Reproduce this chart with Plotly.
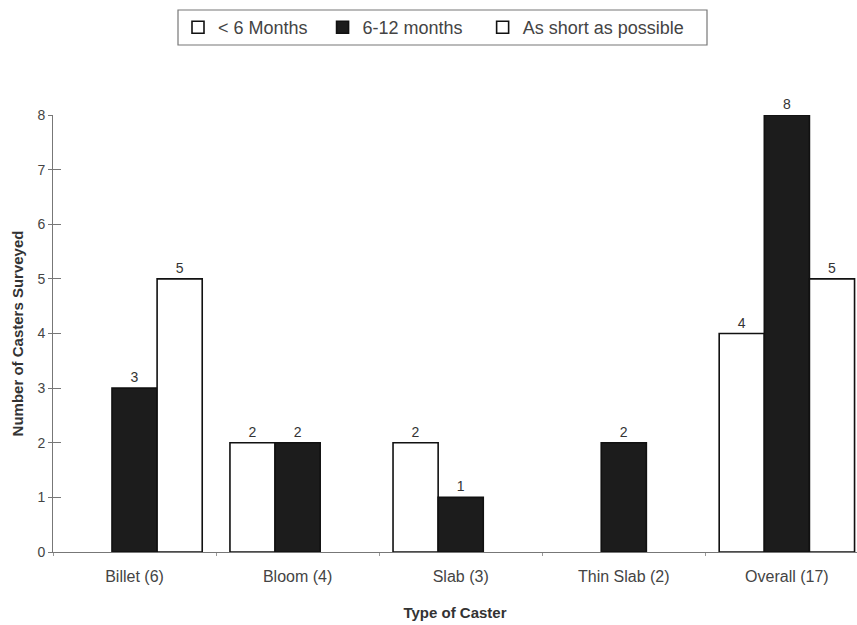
import plotly.graph_objects as go

categories = ["Billet (6)", "Bloom (4)", "Slab (3)", "Thin Slab (2)", "Overall (17)"]
under_6 = [None, 2, 2, None, 4]
six_to_12 = [3, 2, 1, 2, 8]
as_short = [5, None, None, None, 5]
series_names = ["< 6 Months", "6-12 months", "As short as possible"]
y_ticks = [0, 1, 2, 3, 4, 5, 6, 7, 8]

FONT = "Arial, Liberation Sans, sans-serif"
TXT = "#444444"
NB = "\u00a0"

W, H = 857, 625
L, T, B = 53, 115, 73
PW, PH = W - L, H - T - B  # 804 x 437

fig = go.Figure()
series = [
    (series_names[0], NB * 2, under_6, "white"),
    (series_names[1], NB * 3, six_to_12, "#1c1c1c"),
    (series_names[2], "", as_short, "white"),
]
for name, pad, vals, col in series:
    fig.add_trace(go.Bar(
        x=categories, y=vals, name=name + pad,
        marker=dict(color=col, line=dict(color="#111111", width=1.6)),
        text=[("" if v is None else str(v)) for v in vals],
        textposition="outside", cliponaxis=False,
        textfont=dict(family=FONT, size=14, color="#333333"),
    ))

# secondary y axis used to draw inward half of cross ticks
fig.add_trace(go.Scatter(x=[categories[0]], y=[0], yaxis="y2", mode="markers",
                         marker=dict(opacity=0), showlegend=False, hoverinfo="skip"))

fig.update_layout(
    width=W, height=H,
    margin=dict(l=L, r=0, t=T, b=B),
    paper_bgcolor="white", plot_bgcolor="white",
    barmode="group", bargap=0.17, bargroupgap=0,
    font=dict(family=FONT, color=TXT),
    showlegend=True,
    legend=dict(orientation="h", xref="container", yref="container",
                x=178 / W, xanchor="left", y=1 - 9 / H, yanchor="top",
                borderwidth=0, bgcolor="rgba(0,0,0,0)",
                font=dict(family=FONT, size=18, color=TXT),
                itemwidth=30, traceorder="normal"),
    shapes=[dict(type="rect", xref="paper", yref="paper",
                 x0=(178 - L) / PW, x1=(707 - L) / PW,
                 y0=(552 - 45) / PH, y1=(552 - 10) / PH,
                 line=dict(color="#777777", width=1.2), fillcolor="rgba(0,0,0,0)")],
    xaxis=dict(range=[-0.5, 4.43], showline=True, linecolor="#777777", linewidth=1,
               ticks="outside", ticklen=3, tickcolor="#999999", tickson="boundaries",
               automargin=False, ticklabelstandoff=10,
               tickfont=dict(family=FONT, size=16, color=TXT),
               title=dict(text="<b>Type of Caster</b>", standoff=23,
                          font=dict(family=FONT, size=15, color="#333333"))),
    yaxis=dict(range=[0, 8], tickvals=y_ticks, showline=True, linecolor="#777777",
               linewidth=1, ticks="outside", ticklen=4, tickcolor="#777777",
               showgrid=False, zeroline=False, automargin=False,
               tickfont=dict(family=FONT, size=14, color=TXT),
               title=dict(text="<b>Number of Casters Surveyed</b>", standoff=10,
                          font=dict(family=FONT, size=15, color="#333333"))),
    yaxis2=dict(range=[0, 8], tickvals=y_ticks, overlaying="y", side="left",
                anchor="x", showline=False, ticks="inside", ticklen=8,
                tickcolor="#777777", showticklabels=False, showgrid=False,
                zeroline=False, automargin=False),
)

fig.write_html("out.html",
               config={"displayModeBar": False},
               post_script="document.body.style.margin='0';"
                           "document.body.style.overflow='hidden';")
